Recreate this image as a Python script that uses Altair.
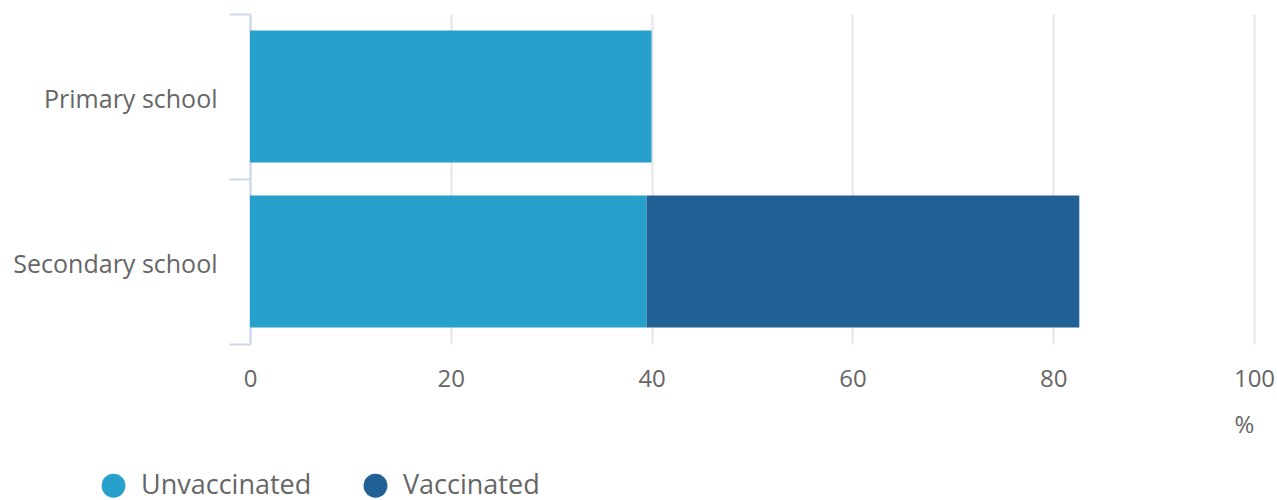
import altair as alt
import pandas as pd

# Share of pupils, by school type and vaccination status (%)
schools = ["Primary school", "Secondary school"]
statuses = ["Unvaccinated", "Vaccinated"]
unvaccinated = [40.0, 39.5]
vaccinated = [None, 43.1]

colors = ["#27a0cc", "#206095"]
text_grey = "#666666"

rows = []
for i, school in enumerate(schools):
    for status, values in zip(statuses, [unvaccinated, vaccinated]):
        if values[i] is not None:
            rows.append({"school": school, "status": status, "value": values[i]})
df = pd.DataFrame(rows)

bars = alt.Chart(df).mark_bar(
    height=alt.RelativeBandSize(0.8), strokeWidth=0
).encode(
    y=alt.Y(
        "school:N",
        sort=schools,
        title=None,
        scale=alt.Scale(padding=0),
        axis=alt.Axis(
            domainColor="#ccd6eb",
            domainWidth=2,
            tickColor="#ccd6eb",
            tickWidth=2,
            tickSize=21,
            tickBand="extent",
            labelPadding=12,
            labelFontSize=25,
            labelFont="Open Sans",
            labelColor=text_grey,
            labelBaseline="middle",
            labelOffset=3,
            labelLimit=0,
            grid=False,
        ),
    ),
    x=alt.X(
        "value:Q",
        stack="zero",
        scale=alt.Scale(domain=[0, 100], nice=False),
        axis=alt.Axis(
            values=[0, 20, 40, 60, 80, 100],
            domain=False,
            ticks=False,
            grid=True,
            gridColor="#e6e6e6",
            gridWidth=2,
            labelPadding=23,
            labelFontSize=24,
            labelFont="Open Sans",
            labelColor=text_grey,
            labelFlush=False,
            labelOverlap=False,
            title="%",
            titleFont="Open Sans",
            titleFontSize=24,
            titleFontWeight="normal",
            titleColor=text_grey,
            titleAlign="center",
            titleBaseline="middle",
            titleX=994,
            titleY=81,
        ),
    ),
    color=alt.Color(
        "status:N",
        sort=statuses,
        scale=alt.Scale(domain=statuses, range=colors),
        legend=alt.Legend(
            title=None,
            orient="none",
            direction="horizontal",
            legendX=-150,
            legendY=458,
            symbolType="circle",
            symbolSize=570,
            symbolStrokeWidth=0,
            symbolOpacity=1,
            labelFont="Open Sans",
            labelFontSize=27,
            labelColor=text_grey,
            labelOffset=14,
            labelLimit=0,
            columnPadding=50,
        ),
    ),
    order=alt.Order("order:Q"),
).transform_calculate(
    order="datum.status === 'Unvaccinated' ? 0 : 1"
)

chart = bars.properties(
    width=1004,
    height=330,
    background="white",
    autosize=alt.AutoSizeParams(type="none"),
    padding={"left": 250, "top": 14, "right": 23, "bottom": 156},
).configure_view(stroke=None)

chart.save("out.html", embed_options={"renderer": "svg", "actions": False})
